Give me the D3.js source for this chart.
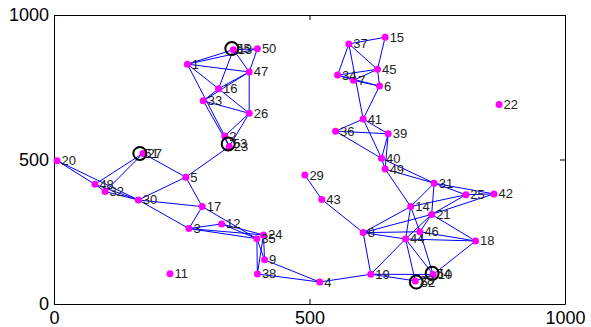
<!DOCTYPE html>
<html>
<head>
<meta charset="utf-8">
<script src="https://cdn.jsdelivr.net/npm/d3@7"></script>
<style>
html,body{margin:0;padding:0;background:#fff;}
svg{display:block;}
</style>
</head>
<body>
<svg id="chart" width="591" height="327"></svg>
<script>
// ---- data ----
const pointIds = [1,2,3,4,5,6,7,8,9,10,11,12,13,14,15,16,17,18,19,20,21,22,23,24,25,26,27,28,29,30,31,32,33,34,35,36,37,38,39,40,41,42,43,44,45,46,47,48,49,50];
const pointX = [261,334,264,520,258,637,586,605,412,742,227,328,351,698,648,322,290,825,620,6,739,871,343,410,806,382,174,707,491,165,744,100,292,555,397,551,577,398,654,641,605,861,524,688,633,716,382,80,648,398];
const pointY = [830,581,261,76,439,754,774,247,153,102,105,277,880,337,923,745,337,218,103,496,310,690,545,239,378,660,521,80,446,360,418,389,703,792,226,598,900,104,589,504,640,381,362,225,812,250,803,414,467,883];

const depotIds = [51,52,53,54,55];
const depotX = [168,709,341,740,348];
const depotY = [521,76,554,106,884];

const edgeFrom = [1,1,1,1,16,1,13,13,13,50,47,47,47,16,33,33,26,26,2,23,
  20,20,48,48,32,48,32,27,30,30,30,5,17,17,3,3,3,12,12,35,24,24,35,9,38,
  4,19,19,19,19,8,43,8,8,8,8,44,46,21,18,14,46,14,44,44,21,21,14,14,14,21,21,21,31,31,25,28,
  37,37,37,37,15,34,34,34,7,7,45,6,41,41,41,36,36,39,39,40,40,49];
const edgeTo = [13,50,47,16,26,2,50,16,47,47,16,33,26,33,26,23,2,23,23,5,
  48,30,32,30,30,27,27,5,5,17,3,17,3,35,12,24,35,24,35,38,38,9,9,4,4,
  19,28,10,44,8,43,29,14,21,46,44,18,18,18,10,46,10,44,28,10,44,46,31,25,49,31,25,42,42,25,42,10,
  15,34,45,41,45,45,7,6,45,6,6,41,36,39,40,39,40,40,49,49,31,31];

const xTicks = [0,500,1000];
const yTicks = [0,500,1000];

// ---- chart ----
const svg = d3.select("#chart");
svg.append("rect").attr("width",591).attr("height",327).attr("fill","#fff");

const x = d3.scaleLinear().domain([0,1000]).range([54,565]);
const y = d3.scaleLinear().domain([0,1000]).range([304,15]);

const pts = pointIds.map((id,i)=>({id, x:pointX[i], y:pointY[i]}));
const byId = new Map(pts.map(p=>[p.id,p]));
const depots = depotIds.map((id,i)=>({id, x:depotX[i], y:depotY[i]}));
depots.forEach(d=>byId.set(d.id,d));
const edges = edgeFrom.map((f,i)=>({a:byId.get(f), b:byId.get(edgeTo[i])}));

const font = "'Liberation Sans', Arial, Helvetica, sans-serif";
const fmt = d3.format("d");

// axes
function styleAxis(g){
  g.selectAll("path.domain").attr("stroke","#000").attr("stroke-width",1);
  g.selectAll(".tick line").attr("stroke","#000").attr("stroke-width",1);
  g.selectAll(".tick text").attr("fill","#000").style("font-family",font).style("font-size","18px");
}
svg.append("g").attr("transform","translate(0,304)")
  .call(d3.axisBottom(x).tickValues(xTicks).tickFormat(fmt).tickSizeInner(-5).tickSizeOuter(0).tickPadding(7))
  .call(styleAxis);
svg.append("g").attr("transform","translate(0,15)")
  .call(d3.axisTop(x).tickValues(xTicks).tickSizeInner(-5).tickSizeOuter(0).tickFormat(""))
  .call(styleAxis);
svg.append("g").attr("transform","translate(54,0)")
  .call(d3.axisLeft(y).tickValues(yTicks).tickFormat(fmt).tickSizeInner(-5).tickSizeOuter(0).tickPadding(5))
  .call(styleAxis);
svg.append("g").attr("transform","translate(565,0)")
  .call(d3.axisRight(y).tickValues(yTicks).tickSizeInner(-5).tickSizeOuter(0).tickFormat(""))
  .call(styleAxis);

// edges
svg.append("g").selectAll("line").data(edges).join("line")
  .attr("x1",d=>x(d.a.x)).attr("y1",d=>y(d.a.y))
  .attr("x2",d=>x(d.b.x)).attr("y2",d=>y(d.b.y))
  .attr("stroke","#0000ff").attr("stroke-width",1);

// points
svg.append("g").selectAll("circle").data(pts).join("circle")
  .attr("cx",d=>x(d.x)).attr("cy",d=>y(d.y)).attr("r",3.5)
  .attr("fill","#ff00ff");

// depot markers
svg.append("g").selectAll("circle").data(depots).join("circle")
  .attr("cx",d=>x(d.x)).attr("cy",d=>y(d.y)).attr("r",6.5)
  .attr("fill","none").attr("stroke","#000").attr("stroke-width",2);

// labels
const labels = pts.concat(depots);
svg.append("g").selectAll("text").data(labels).join("text")
  .attr("x",d=>x(d.x)+4.5).attr("y",d=>y(d.y)+4.5)
  .attr("fill","#222")
  .style("font-family",font).style("font-size","13px")
  .text(d=>d.id);
</script>
</body>
</html>
